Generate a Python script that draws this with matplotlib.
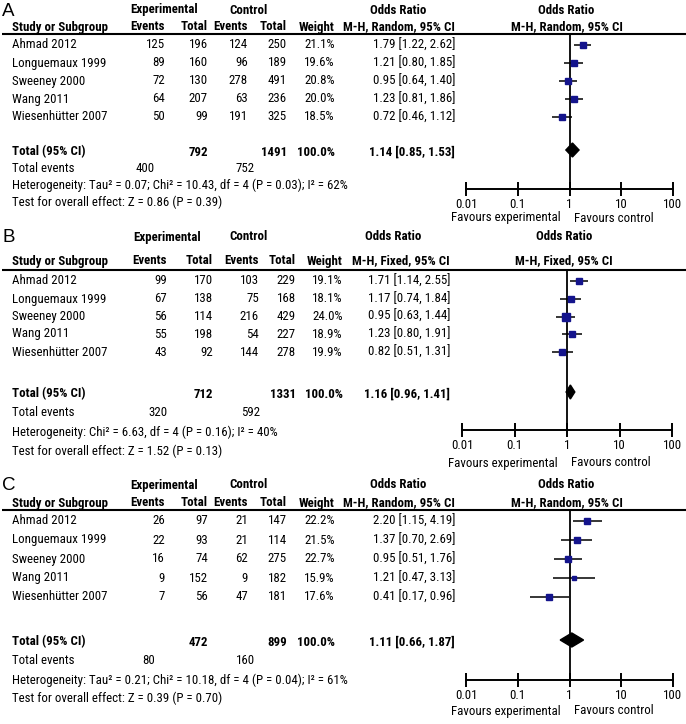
import matplotlib
matplotlib.use('Agg')
import matplotlib.pyplot as plt

plt.rcParams['font.family'] = ['Roboto Condensed', 'Liberation Sans', 'DejaVu Sans']

# ---- data ----
studies = ['Ahmad 2012', 'Longuemaux 1999', 'Sweeney 2000', 'Wang 2011', 'Wiesenhütter 2007']

a_exp_events = [125, 89, 72, 64, 50]
a_exp_total = [196, 160, 130, 207, 99]
a_ctl_events = [124, 96, 278, 63, 191]
a_ctl_total = [250, 189, 491, 236, 325]
a_weight = [21.1, 19.6, 20.8, 20.0, 18.5]
a_or = [1.79, 1.21, 0.95, 1.23, 0.72]
a_lo = [1.22, 0.80, 0.64, 0.81, 0.46]
a_hi = [2.62, 1.85, 1.40, 1.86, 1.12]

b_exp_events = [99, 67, 56, 55, 43]
b_exp_total = [170, 138, 114, 198, 92]
b_ctl_events = [103, 75, 216, 54, 144]
b_ctl_total = [229, 168, 429, 227, 278]
b_weight = [19.1, 18.1, 24.0, 18.9, 19.9]
b_or = [1.71, 1.17, 0.95, 1.23, 0.82]
b_lo = [1.14, 0.74, 0.63, 0.80, 0.51]
b_hi = [2.55, 1.84, 1.44, 1.91, 1.31]

c_exp_events = [26, 22, 16, 9, 7]
c_exp_total = [97, 93, 74, 152, 56]
c_ctl_events = [21, 21, 62, 9, 47]
c_ctl_total = [147, 114, 275, 182, 181]
c_weight = [22.2, 21.5, 22.7, 15.9, 17.6]
c_or = [2.20, 1.37, 0.95, 1.21, 0.41]
c_lo = [1.15, 0.70, 0.51, 0.47, 0.17]
c_hi = [4.19, 2.69, 1.76, 3.13, 0.96]

letters = ['A', 'B', 'C']
methods = ['M-H, Random, 95% CI', 'M-H, Fixed, 95% CI', 'M-H, Random, 95% CI']
total_exp = [792, 712, 472]
total_ctl = [1491, 1331, 899]
total_weight = [100.0, 100.0, 100.0]
events_exp = [400, 320, 80]
events_ctl = [752, 592, 160]
total_or = [1.14, 1.16, 1.11]
total_lo = [0.85, 0.96, 0.66]
total_hi = [1.53, 1.41, 1.87]
tau2 = [0.07, None, 0.21]
chi2 = [10.43, 6.63, 10.18]
p_het = [0.03, 0.16, 0.04]
i2 = [62, 40, 61]
z_val = [0.86, 1.52, 0.39]
p_z = [0.39, 0.13, 0.70]

ticks = [0.01, 0.1, 1, 10, 100]
tick_labels = ['0.01', '0.1', '1', '10', '100']

panels = [
    dict(ee=a_exp_events, et=a_exp_total, ce=a_ctl_events, ct=a_ctl_total, w=a_weight, orr=a_or, lo=a_lo, hi=a_hi),
    dict(ee=b_exp_events, et=b_exp_total, ce=b_ctl_events, ct=b_ctl_total, w=b_weight, orr=b_or, lo=b_lo, hi=b_hi),
    dict(ee=c_exp_events, et=c_exp_total, ce=c_ctl_events, ct=c_ctl_total, w=c_weight, orr=c_or, lo=c_lo, hi=c_hi),
]

# layout in pixels (y from top)
layouts = [
    dict(h1=10, h2=27, line=33.5, rows=[45, 63, 81, 99, 117], tot=152, ev=168, het=185, test=202,
         axis=189, tlab=202, fav=218, cols=[165, 208, 248, 287, 335], orx=455, evx=[155, 255],
         ax_x=(466, 673), expc=164),
    dict(h1=237, h2=261, line=270, rows=[281, 299, 316.5, 334, 352], tot=394, ev=413, het=432, test=451,
         axis=430, tlab=446, fav=463, cols=[167, 213, 259, 296, 343], orx=450, evx=[168, 260],
         ax_x=(462, 672), expc=167),
    dict(h1=485, h2=503, line=510, rows=[521, 540, 559, 578, 597], tot=642, ev=661, het=680, test=698,
         axis=680, tlab=695, fav=711, cols=[165, 208, 248, 287, 335], orx=455, evx=[155, 255],
         ax_x=(466, 673), expc=164),
]

W, H = 686, 724
navy = '#14148c'
fs = 9.3

fig = plt.figure(figsize=(W / 100, H / 100), dpi=100)
ax0 = fig.add_axes([0, 0, 1, 1])
ax0.set_xlim(0, W)
ax0.set_ylim(H, 0)
ax0.axis('off')


def t(x, y, s, ha='left', bold=False, size=fs, **kw):
    ax0.text(x, y, s, ha=ha, va='center', fontsize=size,
             fontweight='bold' if bold else 'normal', **kw)


for k, (d, L) in enumerate(zip(panels, layouts)):
    cols = L['cols']
    fx0, fx1 = L['ax_x']
    fc = (fx0 + fx1) / 2 - 3

    # headers
    t(2, L['h1'] + 1, letters[k], size=13.5, family=['Liberation Sans', 'DejaVu Sans'])
    t(L['expc'], L['h1'], 'Experimental', ha='center', bold=True)
    t(248, L['h1'], 'Control', ha='center', bold=True)
    t(L['orx'] - 57, L['h1'], 'Odds Ratio', ha='center', bold=True)
    t(fc, L['h1'], 'Odds Ratio', ha='center', bold=True)
    t(12, L['h2'], 'Study or Subgroup', bold=True)
    for x, s in zip(cols, ['Events', 'Total', 'Events', 'Total', 'Weight']):
        t(x, L['h2'], s, ha='right', bold=True)
    t(L['orx'], L['h2'], methods[k], ha='right', bold=True)
    t(fc, L['h2'], methods[k], ha='center', bold=True)
    ax0.plot([2, W], [L['line'], L['line']], color='k', lw=1.5, solid_capstyle='butt')

    # study rows
    for i, y in enumerate(L['rows']):
        t(12, y, studies[i])
        vals = [d['ee'][i], d['et'][i], d['ce'][i], d['ct'][i]]
        for x, v in zip(cols[:4], vals):
            t(x, y, str(v), ha='right')
        t(cols[4], y, f"{d['w'][i]:.1f}%", ha='right')
        t(L['orx'], y, f"{d['orr'][i]:.2f} [{d['lo'][i]:.2f}, {d['hi'][i]:.2f}]", ha='right')

    # totals
    t(12, L['tot'], 'Total (95% CI)', bold=True)
    t(cols[1], L['tot'], str(total_exp[k]), ha='right', bold=True)
    t(cols[3], L['tot'], str(total_ctl[k]), ha='right', bold=True)
    t(cols[4], L['tot'], f"{total_weight[k]:.1f}%", ha='right', bold=True)
    t(L['orx'], L['tot'], f"{total_or[k]:.2f} [{total_lo[k]:.2f}, {total_hi[k]:.2f}]", ha='right', bold=True)
    t(12, L['ev'], 'Total events')
    t(L['evx'][0], L['ev'], str(events_exp[k]), ha='right')
    t(L['evx'][1], L['ev'], str(events_ctl[k]), ha='right')
    het = 'Heterogeneity: '
    if tau2[k] is not None:
        het += f'Tau² = {tau2[k]:.2f}; '
    het += f'Chi² = {chi2[k]:.2f}, df = 4 (P = {p_het[k]:.2f}); I² = {i2[k]}%'
    t(12, L['het'], het)
    t(12, L['test'], f'Test for overall effect: Z = {z_val[k]:.2f} (P = {p_z[k]:.2f})')

    # forest plot axes
    ax = fig.add_axes([fx0 / W, 1 - L['axis'] / H, (fx1 - fx0) / W, (L['axis'] - L['line']) / H])
    ax.set_xscale('log')
    ax.set_xlim(0.01, 100)
    ax.set_ylim(L['axis'], L['line'])
    ax.patch.set_alpha(0)
    for s in ['top', 'left', 'right']:
        ax.spines[s].set_visible(False)
    ax.spines['bottom'].set_linewidth(1.4)
    ax.set_yticks([])
    ax.set_xticks(ticks)
    ax.set_xticklabels(tick_labels, fontsize=fs)
    ax.xaxis.set_minor_locator(matplotlib.ticker.NullLocator())
    ax.tick_params(axis='x', direction='inout', length=10, width=1.4, pad=1.5)
    ax.axvline(1, color='k', lw=1.3)

    ys = L['rows']
    ax.hlines(ys, d['lo'], d['hi'], color='k', lw=1.1)
    for i, y in enumerate(ys):
        ax.plot(d['orr'][i], y, 's', ms=d['w'][i] * 0.22, color=navy, mec=navy, zorder=3)
    hh = 7
    yt = L['tot'] - 2
    ax.fill([total_lo[k], total_or[k], total_hi[k], total_or[k]], [yt, yt - hh, yt, yt + hh],
            color='k', zorder=3)

    t(fc - 6, L['fav'], 'Favours experimental', ha='right')
    t(fc + 7, L['fav'], 'Favours control', ha='left')

fig.savefig('out.png', dpi=100)
